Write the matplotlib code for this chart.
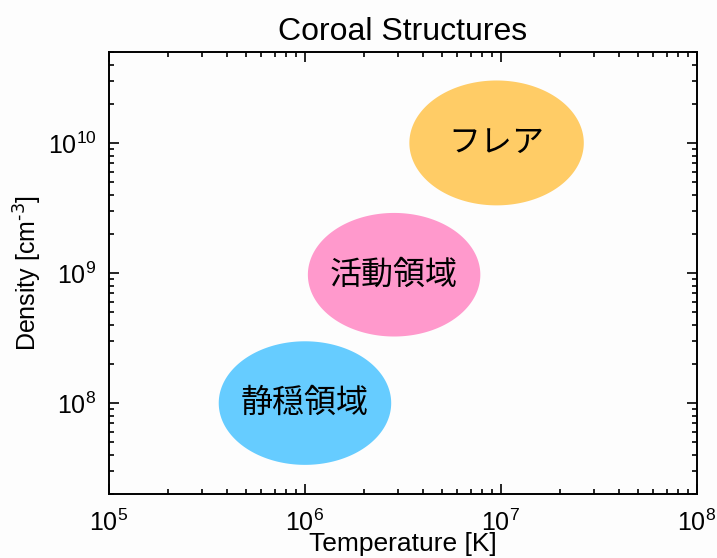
import numpy as np
import matplotlib
matplotlib.use("Agg")
import matplotlib.pyplot as plt
from matplotlib.ticker import LogLocator, NullFormatter

plt.rcParams['font.family'] = ['Liberation Sans', 'DejaVu Sans']
plt.rcParams['mathtext.fontset'] = 'custom'
plt.rcParams['mathtext.rm'] = 'Liberation Sans Narrow'
plt.rcParams['mathtext.it'] = 'Liberation Sans Narrow:italic'
plt.rcParams['mathtext.bf'] = 'Liberation Sans Narrow:bold'

# Coronal structure regions: centre temperature [K], centre density [cm^-3]
regions = ["静穏領域", "活動領域", "フレア"]
temperatures = [1.0e6, 2.85e6, 9.5e6]
densities = [1.0e8, 0.97e9, 1.0e10]
# half extents of each region in decades (log10 units)
half_width_dex = [0.44, 0.44, 0.445]
half_height_dex = [0.475, 0.475, 0.48]
colors = ["#66CCFF", "#FF99CC", "#FFCC66"]

x_limits = [1e5, 1e8]
y_limits = [2e7, 5e10]

fig = plt.figure(figsize=(7.17, 5.58), dpi=100)
fig.patch.set_facecolor("#FDFDFD")
ax = fig.add_axes([0.152, 0.1147, 0.82, 0.7921])
ax.set_facecolor("#FDFDFD")
ax.set_xscale("log")
ax.set_yscale("log")
ax.set_xlim(x_limits)
ax.set_ylim(y_limits)

t = np.linspace(0, 2 * np.pi, 400)
for name, T, n, a, b, c in zip(regions, temperatures, densities,
                                half_width_dex, half_height_dex, colors):
    xs = 10 ** (np.log10(T) + a * np.cos(t))
    ys = 10 ** (np.log10(n) + b * np.sin(t))
    ax.fill(xs, ys, color=c, lw=0, zorder=1)
    ax.text(T, n, name, ha="center", va="center", fontsize=23,
            family=["Noto Sans CJK JP", "DejaVu Sans"], color="black", zorder=2)

ax.xaxis.set_major_locator(LogLocator(base=10, numticks=10))
ax.xaxis.set_minor_locator(LogLocator(base=10, subs=np.arange(2, 10), numticks=20))
ax.yaxis.set_major_locator(LogLocator(base=10, numticks=10))
ax.yaxis.set_minor_locator(LogLocator(base=10, subs=np.arange(2, 10), numticks=20))
ax.xaxis.set_minor_formatter(NullFormatter())
ax.yaxis.set_minor_formatter(NullFormatter())

ax.tick_params(which="both", direction="in", top=True, right=True,
               width=1.2, colors="black", labelsize=18)
ax.tick_params(which="major", length=7.5)
ax.tick_params(which="minor", length=3.5)
ax.tick_params(axis="x", which="major", pad=11)
ax.tick_params(axis="y", which="major", pad=9)
for s in ax.spines.values():
    s.set_linewidth(1.4)

ax.set_title("Coroal Structures", fontsize=23, pad=9)
ax.set_xlabel("Temperature [K]", fontsize=19, labelpad=-3)
ax.set_ylabel(r"Density [cm$^{\text{-3}}$]", fontsize=18, labelpad=3)

fig.savefig("out.png", dpi=100, facecolor=fig.get_facecolor())
